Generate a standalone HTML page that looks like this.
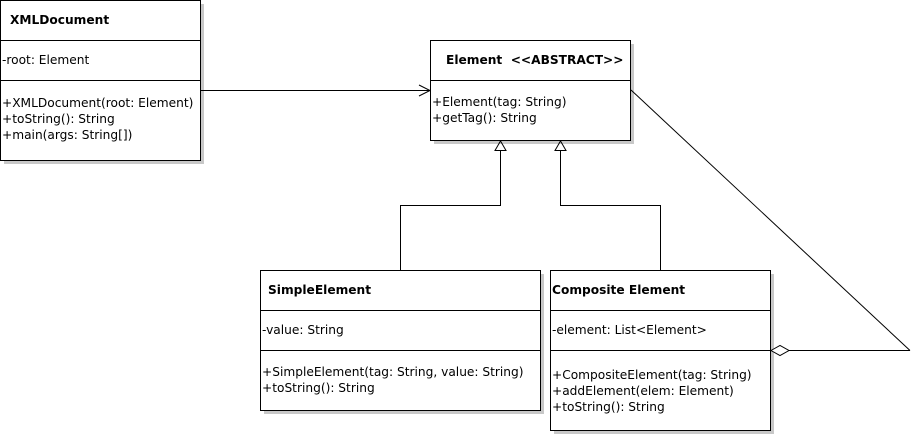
<!DOCTYPE html>
<html><head><style>
html,body{margin:0;padding:0;background:#fff;}
svg{display:block;}
text{font-family:"DejaVu Sans","Liberation Sans",sans-serif;font-size:12.2px;fill:#000;}
.b{font-weight:bold;}
</style></head><body>
<svg width="915" height="435" viewBox="0 0 915 435" xmlns="http://www.w3.org/2000/svg">
<g fill="#c8c8c8">
<rect x="4" y="4" width="200" height="160"/>
<rect x="434" y="44" width="200" height="100"/>
<rect x="264" y="274" width="280" height="140"/>
<rect x="554" y="274" width="220" height="160"/>
</g>
<g fill="#fff" stroke="#000" stroke-width="1">
<rect x="0.5" y="0.5" width="200" height="160"/>
<rect x="430.5" y="40.5" width="200" height="100"/>
<rect x="260.5" y="270.5" width="280" height="140"/>
<rect x="550.5" y="270.5" width="220" height="160"/>
</g>
<g stroke="#000" stroke-width="1" fill="none">
<line x1="0" y1="40.5" x2="200" y2="40.5"/>
<line x1="0" y1="80.5" x2="200" y2="80.5"/>
<line x1="430" y1="80.5" x2="630" y2="80.5"/>
<line x1="260" y1="310.5" x2="540" y2="310.5"/>
<line x1="260" y1="350.5" x2="540" y2="350.5"/>
<line x1="550" y1="310.5" x2="770" y2="310.5"/>
<line x1="550" y1="350.5" x2="770" y2="350.5"/>
<line x1="201" y1="90.5" x2="430" y2="90.5"/>
<polyline points="419,85 430,90.5 419,96"/>
<polyline points="400.5,270 400.5,205.5 500.5,205.5 500.5,150"/>
<polyline points="660.5,270 660.5,205.5 560.5,205.5 560.5,150"/>
<polygon points="500.5,141 495,150.5 506,150.5"/>
<polygon points="560.5,141 555,150.5 566,150.5"/>
<line x1="631" y1="90" x2="910" y2="350.5"/>
<line x1="789" y1="350.5" x2="910" y2="350.5"/>
<polygon points="771,350.5 780,345.5 789,350.5 780,355.5" fill="#fff"/>
</g>
<text class="b" x="10" y="24">XMLDocument</text>
<text x="2" y="64">-root: Element</text>
<text x="2" y="107">+XMLDocument(root: Element)</text>
<text x="2" y="123">+toString(): String</text>
<text x="2" y="139">+main(args: String[])</text>
<text class="b" x="446" y="64" xml:space="preserve">Element  &lt;&lt;ABSTRACT&gt;&gt;</text>
<text x="432" y="106">+Element(tag: String)</text>
<text x="432" y="122">+getTag(): String</text>
<text class="b" x="268" y="294">SimpleElement</text>
<text x="262" y="334">-value: String</text>
<text x="262" y="376">+SimpleElement(tag: String, value: String)</text>
<text x="262" y="392">+toString(): String</text>
<text class="b" x="552" y="294">Composite Element</text>
<text x="552" y="334">-element: List&lt;Element&gt;</text>
<text x="552" y="379">+CompositeElement(tag: String)</text>
<text x="552" y="395">+addElement(elem: Element)</text>
<text x="552" y="411">+toString(): String</text>
</svg>
</body></html>
